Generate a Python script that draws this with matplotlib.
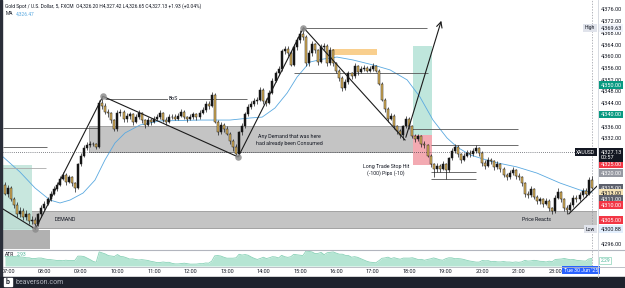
import numpy as np
import pandas as pd
import matplotlib
matplotlib.use("Agg")
import matplotlib.pyplot as plt
from matplotlib.patches import Rectangle
import matplotlib.transforms as mtransforms

plt.rcParams['font.family'] = ['Roboto', 'DejaVu Sans']

# 5 minute bars, index 0 = 07:00 (the 22:00-23:00 break has no bars)
first_open = 4316
closes = [4313,
          4315, 4311, 4309, 4306, 4307, 4305, 4306, 4303.5, 4304, 4302.5, 4306, 4308,
          4309.5, 4311, 4313, 4314.5, 4316, 4318, 4319.5, 4317, 4318.5, 4316.5, 4315, 4323,
          4326, 4328.5, 4329.5, 4330, 4329.8, 4329, 4344, 4343, 4341, 4340.5, 4338, 4335,
          4340.5, 4341, 4338.5, 4339.5, 4340, 4337.5, 4339, 4340.5, 4338, 4336.5, 4338, 4337.5,
          4338.5, 4339, 4340.5, 4338, 4337.5, 4339, 4339.2, 4338.5, 4339.5, 4341, 4339, 4338.5,
          4339, 4340, 4339, 4340.5, 4341.5, 4343.5, 4343, 4346.5, 4337.5, 4334, 4336.5, 4335,
          4333.5, 4331, 4329, 4326.5, 4334, 4336, 4340, 4342.5, 4343.5, 4344.5, 4345, 4348.5,
          4344.5, 4344, 4347.5, 4351.5, 4354, 4355.5, 4361.5, 4362.5, 4361, 4357, 4363, 4365.5,
          4367.5, 4366.5, 4357.5, 4361, 4364, 4362, 4358, 4363, 4363.5, 4357.5, 4362, 4357.5,
          4355, 4352.5, 4349, 4351, 4354, 4353, 4356.5, 4354.5, 4355.5, 4356, 4355, 4355.5,
          4356.5, 4355, 4350.5, 4345, 4342, 4338.5, 4339.5, 4336, 4334.5, 4333, 4336, 4338.5,
          4336, 4332.5, 4331.5, 4332.5, 4330, 4329.5, 4326, 4323, 4321.5, 4322.5, 4321.5, 4323,
          4321, 4325, 4327.5, 4329, 4326.5, 4324.5, 4326, 4327, 4326.5, 4327.5, 4328.5, 4327,
          4323.5, 4322.5, 4324.5, 4324, 4322, 4323, 4321.5, 4319.5, 4318.5, 4320, 4321, 4319,
          4318.5, 4316.5, 4313, 4312.5, 4314.5, 4312, 4310.5, 4311, 4309.5, 4310.5, 4308, 4307,
          4311.5, 4313.5, 4311, 4308, 4307.5, 4309, 4311.5, 4311, 4312.5, 4314, 4313, 4317.5, 4315]
highs = [4317,
         4316, 4315.5, 4312, 4310, 4308.5, 4308, 4307.5, 4306.5, 4305.5, 4305, 4306.5, 4309,
         4310.5, 4312, 4314, 4315.5, 4317, 4319, 4320.5, 4320, 4319.5, 4319, 4317, 4323.5,
         4327, 4329.5, 4330.5, 4331, 4330.5, 4330.2, 4345, 4346.3, 4344, 4342, 4341, 4338.5,
         4341.5, 4342, 4341.5, 4340.5, 4341, 4340.5, 4340, 4341.5, 4341, 4338.5, 4339, 4338.8,
         4339.5, 4340, 4341.5, 4341, 4339, 4340, 4340, 4340, 4340.5, 4342, 4341.5, 4339.5,
         4340, 4341, 4340.5, 4341.5, 4342.5, 4344.5, 4344.5, 4347.8, 4347.2, 4338, 4337.5, 4337,
         4336, 4334, 4331.5, 4330, 4334.5, 4337, 4341, 4343.5, 4344.5, 4345.5, 4346, 4349.5,
         4349, 4345.5, 4348.5, 4352.5, 4355, 4356.5, 4362.5, 4363.5, 4363.5, 4361.5, 4364, 4366.5,
         4369, 4369.63, 4367, 4362, 4365, 4364.5, 4362.5, 4364, 4364.5, 4364, 4363, 4362.5,
         4358, 4355.5, 4353, 4352, 4355, 4354.5, 4357.5, 4357, 4356.5, 4357, 4356.5, 4356.5,
         4357.5, 4357, 4355.5, 4351, 4345.5, 4342.5, 4340.5, 4340, 4336.5, 4335, 4336.5, 4339.5,
         4339, 4336.5, 4333.5, 4333.5, 4333, 4331, 4330, 4326.5, 4323.5, 4323.5, 4323, 4324,
         4323.5, 4325.5, 4328.5, 4330, 4329.5, 4327, 4327, 4328, 4328, 4328.5, 4329.5, 4329,
         4327.5, 4324.5, 4325.5, 4325, 4324.5, 4324, 4323.5, 4322, 4320, 4321, 4322, 4321.5,
         4320, 4319, 4317, 4314, 4315.5, 4315, 4312.5, 4312, 4311.5, 4311.5, 4311, 4308.5,
         4312.5, 4315, 4314, 4311.5, 4309, 4310, 4312.5, 4312.5, 4313.5, 4315, 4315, 4318.5, 4319]
lows = [4312.5,
        4312, 4310.5, 4308, 4305, 4305, 4304, 4304, 4302.5, 4302.5, 4300.88, 4302, 4305,
        4307.5, 4309, 4310.5, 4312.5, 4314, 4315.5, 4317.5, 4316, 4316.5, 4315.5, 4313.5, 4314.5,
        4322.5, 4325.5, 4328, 4329, 4329.2, 4328.2, 4328.5, 4342, 4340, 4339, 4337, 4334.5,
        4334.5, 4339.5, 4337.5, 4337.5, 4338.5, 4336.5, 4337, 4338.5, 4337, 4335.5, 4336, 4336.5,
        4337, 4338, 4338.5, 4337.5, 4336.5, 4337, 4338.5, 4338, 4338, 4339, 4338.5, 4337.5,
        4338, 4338.5, 4338, 4338.5, 4340, 4341, 4342, 4342.5, 4337, 4333, 4333.5, 4334,
        4333, 4330, 4327.5, 4325.5, 4325.8, 4333, 4335.5, 4339.5, 4342, 4343, 4343.5, 4344.5,
        4343.5, 4343, 4343.5, 4347, 4351, 4353.5, 4355, 4360.5, 4360, 4356.5, 4356.5, 4362,
        4364.5, 4365.5, 4356.5, 4356.5, 4360, 4361, 4357, 4357.5, 4362, 4356.5, 4357, 4356.5,
        4354, 4351.5, 4348, 4348.5, 4350.5, 4352, 4352.5, 4353.5, 4354, 4355, 4354.5, 4354.5,
        4355, 4354.5, 4350, 4344.5, 4341, 4337.5, 4338, 4335, 4333.5, 4332, 4331.3, 4335.5,
        4335, 4332, 4330.5, 4331, 4329, 4328.5, 4325.5, 4322, 4318.5, 4320.5, 4320.5, 4321,
        4318, 4320.5, 4324.5, 4327, 4325.5, 4323.5, 4324, 4325.5, 4325.5, 4326, 4327, 4326,
        4322.5, 4321.5, 4322, 4323, 4321, 4321.5, 4320.5, 4318.5, 4317.5, 4318, 4319.5, 4318,
        4317.5, 4315.5, 4312, 4311.5, 4312, 4311, 4309.5, 4309.5, 4308.5, 4309, 4307, 4306,
        4306.5, 4311, 4310, 4307, 4306, 4307, 4308.5, 4310, 4310.5, 4312, 4312, 4312.5, 4314.5]

# moving average (bar index, price)
ma_idx = [-1.6, 3.9, 8.9, 13.8, 17.1, 20.4, 24.7, 28.6, 31.9, 35.2, 38.5, 43.4, 50, 63.2, 73,
          79.6, 83.6, 87.8, 91.8, 95.1, 99.3, 103.6, 108.2, 113.5, 120.1, 125.7, 131.3, 135.5,
          139.8, 144.4, 147.7, 152, 159.5, 167.4, 174, 181.6, 188.2, 192.1]
ma_val = [4325.5, 4320.4, 4314.9, 4310.8, 4309.8, 4310.8, 4313.2, 4317.6, 4324.5, 4330.3, 4333.7,
          4336.4, 4337.8, 4338.1, 4338.1, 4338.8, 4339.1, 4342.2, 4347.3, 4352.8, 4357.9, 4358.9,
          4359.6, 4358.6, 4356.9, 4355.2, 4351.8, 4346.0, 4338.1, 4332.0, 4328.9, 4326.2, 4323.8,
          4322.1, 4320.0, 4316.6, 4314.2, 4313.5]

hour_idx = [0, 12, 24, 36, 48, 60, 72, 84, 96, 108, 120, 132, 144, 156, 168, 180]
hour_lbl = ['07:00', '08:00', '09:00', '10:00', '11:00', '12:00', '13:00', '14:00', '15:00',
            '16:00', '17:00', '18:00', '19:00', '20:00', '21:00', '23:00']
price_ticks = [4376, 4372, 4368, 4364, 4360, 4356, 4352, 4348, 4344, 4336, 4332, 4296]

W, H = 625, 288
fig = plt.figure(figsize=(W / 100, H / 100), dpi=100)

def fr(x0, y0, x1, y1):
    return [x0 / W, 1 - y1 / H, (x1 - x0) / W, (y1 - y0) / H]

ax = fig.add_axes(fr(3, 0, 597, 249))
ax2 = fig.add_axes(fr(3, 250, 597, 266), sharex=ax)
ax.set_xlim(-1.65, 193.75)
ax.set_ylim(4294.09, 4379.07)

# candles
idx = np.arange(-1, len(closes) - 1)
opens = [first_open] + closes[:-1]
for x, o, h, l, c in zip(idx, opens, highs, lows, closes):
    up = c >= o
    ax.vlines(x, l, h, color='#1b1b1b', lw=0.5, zorder=4)
    ax.add_patch(Rectangle((x - 0.33, min(o, c)), 0.66, max(abs(c - o), 0.15),
                           facecolor='#141414' if up else '#e0b65a',
                           edgecolor='#1b1b1b', lw=0.35, zorder=5))

ax.plot(ma_idx, ma_val, color='#5aa9e0', lw=0.6, zorder=3)

# zones
def box(x0, x1, p0, p1, fc, ec='none', alpha=1.0, z=1):
    ax.add_patch(Rectangle((x0, p0), x1 - x0, p1 - p0, facecolor=fc, edgecolor=ec,
                           lw=0.5, alpha=alpha, zorder=z))

box(-1.65, 193.75, 4301.3, 4307.1, '#c4c4c4', '#8a8a8a')
box(26.6, 133.2, 4327.2, 4336.1, '#c4c4c4', '#8a8a8a')
box(-1.65, 7.9, 4300.6, 4322.8, '#bfe3d9', alpha=0.85, z=2)
box(-1.65, 13.8, 4294.1, 4300.6, '#9e9e9e', alpha=0.8, z=2)
box(133.2, 139.5, 4333.0, 4363.4, '#bfe6dc', z=2)
box(133.2, 139.5, 4322.8, 4333.0, '#f3aab2', z=2)
box(106.6, 121.4, 4360.4, 4362.4, '#f9cf8e', z=2)

# horizontal levels
levels = [(97.7, 137.8, 4369.5), (94.0, 138.0, 4354.3), (31.9, 78.6, 4345.3),
          (-1.65, 29.6, 4335.5), (-1.65, 12.8, 4328.9), (133.0, 167.8, 4335.0),
          (139.0, 167.8, 4329.6), (139.0, 154.0, 4320.4), (139.0, 154.0, 4318.0)]
for x0, x1, p in levels:
    ax.hlines(p, x0, x1, color='#555555', lw=0.6, zorder=3)
ax.hlines(4321.8, -1.65, 12.5, color='#aaaaaa', lw=0.6, zorder=3)
ax.axhline(4327.13, color='#131722', lw=0.5, ls=(0, (1, 2)), zorder=3)
ax.axvline(192.1, color='#9598a1', lw=0.5, ls=(0, (2, 2)), zorder=3)
ax2.axvline(192.1, color='#9598a1', lw=0.5, ls=(0, (2, 2)), zorder=3)

# swing lines
swing_x = [-1.6, 9.0, 31.2, 75.7, 97.2, 130.6]
swing_p = [4307.7, 4300.9, 4346.2, 4325.5, 4369.63, 4331.3]
ax.plot(swing_x, swing_p, color='#1b1b1b', lw=0.8, zorder=6)
ax.annotate('', xy=(142.8, 4372.9), xytext=(130.6, 4331.3),
            arrowprops=dict(arrowstyle='->', color='#1b1b1b', lw=0.8), zorder=6)
ax.plot([184.5, 193.7], [4306.1, 4315.5], color='#1b1b1b', lw=0.8, zorder=6)
ax.scatter(swing_x[1:5], swing_p[1:5], s=22, color='#8c8c8c', alpha=0.85, zorder=7, lw=0)

# labels on chart
tk = dict(fontsize=3.8, color='#131722', zorder=8)
ax.text(54.5, 4345.3, 'BoS', ha='center', va='center',
        bbox=dict(fc='white', ec='none', pad=0.6), **tk)
ax.text(19, 4304.2, 'DEMAND', ha='center', va='center', **tk)
ax.text(92.5, 4331.3, 'Any Demand that was here\nhad already been Consumed', ha='center',
        va='center', linespacing=1.3, **tk)
ax.text(124.3, 4321.1, 'Long Trade Stop Hit\n(-100) Pips (-10)', ha='center', va='center',
        linespacing=1.4, **tk)
ax.text(174, 4304.2, 'Price Reacts', ha='center', va='center', **tk)

ax.text(0.004, 0.988, 'Gold Spot / U.S. Dollar, 5, FXCM  O4,326.20 H4,327.42 L4,326.65 '
        'C4,327.13 +1.93 (+0.04%)', transform=ax.transAxes, fontsize=3.5, color='#131722',
        va='top', ha='left')
ax.text(0.004, 0.955, 'MA', transform=ax.transAxes, fontsize=3.5, color='#131722', va='top')
ax.text(0.021, 0.955, '4,326.47', transform=ax.transAxes, fontsize=3.5, color='#5aa9e0', va='top')

# price axis
ax.yaxis.tick_right()
ax.set_yticks(price_ticks)
ax.set_yticklabels(['{:,.2f}'.format(p) for p in price_ticks])
ax.tick_params(axis='y', length=0, pad=3, labelsize=4, labelcolor='#131722')
ax.tick_params(axis='x', length=0, labelbottom=False)
for s in ax.spines.values():
    s.set_visible(False)

tr = mtransforms.blended_transform_factory(ax.transAxes, ax.transData)
tags = [(4369.63, '4,369.63', '#f0f3fa', '#131722'), (4350, '4,350.00', '#089981', 'white'),
        (4340, '4,340.00', '#089981', 'white'), (4323.1, '4,325.00', '#f23645', 'white'),
        (4320, '4,320.00', '#9598a1', 'white'), (4314.9, '4,315.00', '#5d606b', 'white'),
        (4313.2, '4,313.00', '#f5e3b5', '#131722'), (4311.2, '4,311.00', '#5d606b', 'white'),
        (4309.1, '4,310.00', '#f23645', 'white'), (4304.0, '4,305.00', '#f23645', 'white'),
        (4300.88, '4,300.88', '#e3effd', '#131722')]
for p, t, bg, fg in tags:
    ax.text(1.006, p, t, transform=tr, fontsize=4, color=fg, va='center', ha='left',
            bbox=dict(boxstyle='square,pad=0.25', fc=bg, ec='none'), clip_on=False, zorder=9)
ax.text(1.006, 4326.2, '4,327.13\n00:57', transform=tr, fontsize=4, color='white', va='center',
        ha='left', linespacing=1.1,
        bbox=dict(boxstyle='square,pad=0.25', fc='#131722', ec='none'), clip_on=False, zorder=10)
ax.text(0.997, 4327.13, 'XAUUSD', transform=tr, fontsize=3.6, color='white', va='center',
        ha='right', bbox=dict(boxstyle='square,pad=0.3', fc='#131722', ec='none'), zorder=10)
ax.text(0.997, 4369.63, 'High', transform=tr, fontsize=3.6, color='#131722', va='center',
        ha='right', bbox=dict(boxstyle='square,pad=0.3', fc='#e0e3eb', ec='none'), zorder=10)
ax.text(0.997, 4300.88, 'Low', transform=tr, fontsize=3.6, color='#131722', va='center',
        ha='right', bbox=dict(boxstyle='square,pad=0.3', fc='#e0e3eb', ec='none'), zorder=10)

# ATR pane
hi, lo, cl = np.array(highs), np.array(lows), np.array(closes)
prev = np.r_[first_open, cl[:-1]]
trange = np.maximum(hi - lo, np.maximum(np.abs(hi - prev), np.abs(lo - prev)))
atr = pd.Series(trange).ewm(alpha=1 / 5, adjust=False).mean().values
lo_a = atr.min() * 0.8
ax2.set_ylim(lo_a, atr.max() * 1.05)
ax2.fill_between(idx, lo_a, atr, color='#b5e5d3', lw=0)
ax2.plot(idx, atr, color='#8ad2b8', lw=0.6)
ax2.text(0.004, 0.9, 'ATR', transform=ax2.transAxes, fontsize=3.6, color='#131722', va='top')
ax2.text(0.024, 0.9, '2.93', transform=ax2.transAxes, fontsize=3.6, color='#4fb79a', va='top')
ax2.set_yticks([])
ax2.set_xticks(hour_idx)
ax2.set_xticklabels(hour_lbl)
ax2.tick_params(axis='x', length=0, pad=2, labelsize=4, labelcolor='#131722')
for s in ax2.spines.values():
    s.set_visible(False)
ax2.text(1.006, 0.35, '2.29', transform=ax2.transAxes, fontsize=3.6, color='#4fb79a',
         va='center', ha='left', bbox=dict(boxstyle='square,pad=0.25', fc='white', ec='#8ad2b8',
                                           lw=0.5), clip_on=False)
ax2.text(188.5, -0.25, "Tue 30 Jun '25", transform=mtransforms.blended_transform_factory(
    ax2.transData, ax2.transAxes), fontsize=3.8, color='white', va='center', ha='center',
    bbox=dict(boxstyle='square,pad=0.35', fc='#2962ff', ec='none'), clip_on=False, zorder=10)

# frame lines, footer
fig.add_artist(plt.Line2D([3 / W, 1], [1 - 249.5 / H] * 2, color='#b2b5be', lw=0.8))
fig.add_artist(plt.Line2D([3 / W, 1], [1 - 266.5 / H] * 2, color='#b2b5be', lw=0.6))
fig.add_artist(plt.Line2D([597.5 / W] * 2, [1 - 277 / H, 1], color='#d1d4dc', lw=0.6))
fig.add_artist(Rectangle((0, 1 - 277 / H), 2 / W, 277 / H, transform=fig.transFigure,
                         color='#2a2e39'))
fig.add_artist(Rectangle((0, 0), 1, 11 / H, transform=fig.transFigure, color='#1e222d'))
fig.add_artist(Rectangle((4 / W, 2 / H), 8 / W, 8 / H, transform=fig.transFigure, color='white'))
fig.text(8 / W, 6 / H, 'b', fontsize=5, color='#1e222d', ha='center', va='center',
         fontweight='bold')
fig.text(15 / W, 6 / H, 'beaverson.com', fontsize=5, color='#b2b5be', ha='left', va='center')

fig.savefig('out.png', dpi=100)
